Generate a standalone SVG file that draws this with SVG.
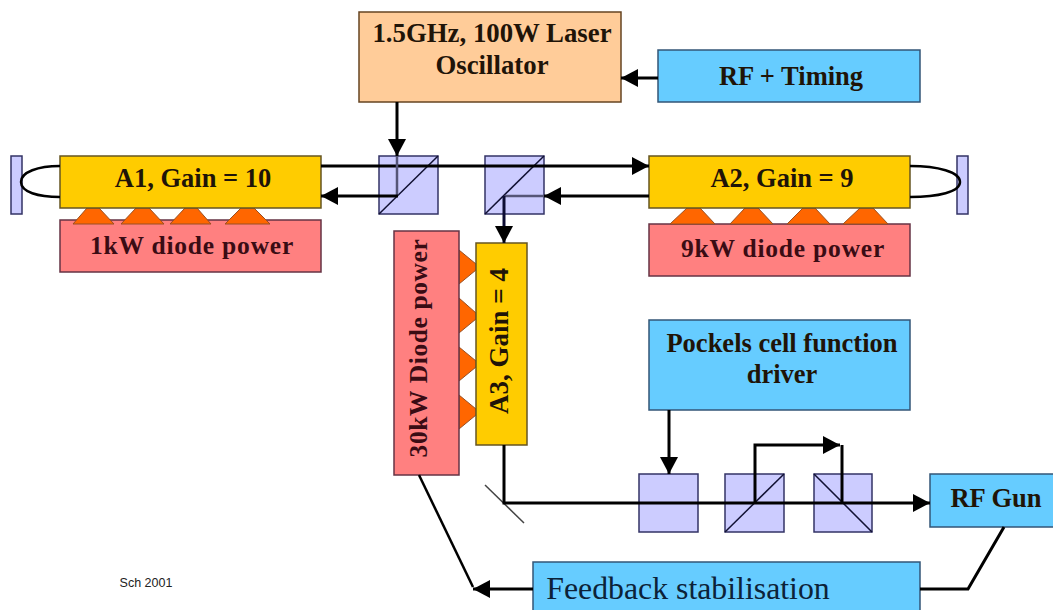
<svg xmlns="http://www.w3.org/2000/svg" width="1053" height="610" viewBox="0 0 1053 610">
<defs>
<marker id="ah" markerUnits="userSpaceOnUse" markerWidth="20" markerHeight="20" refX="17" refY="9" orient="auto"><path d="M0,0L17,9L0,18Z" fill="#000"/></marker>
</defs>
<style>
text{font-family:"Liberation Serif",serif;font-weight:bold;fill:#1f1408;text-anchor:middle;font-size:26.5px}
.p{font-size:25.5px;letter-spacing:.8px;fill:#3a0c14}
.y{fill:#ffcc00;stroke:#665522;stroke-width:1.5}
.r{fill:#ff8080;stroke:#663344;stroke-width:1.5}
.b{fill:#66ccff;stroke:#335577;stroke-width:1.5}
.o{fill:#ffcc99;stroke:#664422;stroke-width:1.5}
.c{fill:#ccccff;stroke:#333366;stroke-width:1.5}
.d{fill:#ff6600;stroke:#994f22;stroke-width:1}
.l{fill:none;stroke:#000;stroke-width:3}
.m{fill:none;stroke:#555577;stroke-width:2.5}
.t{fill:none;stroke:#111133;stroke-width:1.5}
.n{fill:none;stroke:#444;stroke-width:1.5}
.f{fill:none;stroke:#000;stroke-width:2.5}
</style>
<rect width="1053" height="610" fill="#fff"/>
<g id="p1"><rect class="r" x="60" y="220" width="261" height="52"/><text class="p" x="192" y="254">1kW diode power</text></g>
<g id="p2"><rect class="r" x="649" y="224" width="261" height="52"/><text class="p" x="783" y="257">9kW diode power</text></g>
<g id="diodes-a1"><path class="d" d="M73,224L87,208H99L114,224Z"/><path class="d" d="M121,224L136,208H149L164,224Z"/><path class="d" d="M170,224L185,208H197L211,224Z"/><path class="d" d="M225,224L241,208H254L270,224Z"/></g>
<g id="diodes-a2"><path class="d" d="M670,224L687,208H700L715,224Z"/><path class="d" d="M730,224L745,208H758L773,224Z"/><path class="d" d="M787,224L803,208H815L830,224Z"/><path class="d" d="M843,224L860,208H873L888,224Z"/></g>
<g id="diodes-a3"><path class="d" d="M459,250L476,264V270L459,284Z"/><path class="d" d="M459,298L476,313V319L459,333Z"/><path class="d" d="M459,347L476,361V367L459,381Z"/><path class="d" d="M459,395L476,409V415L459,429Z"/></g>
<g id="laser"><rect class="o" x="359" y="12" width="262" height="90"/><text x="492" y="42" style="font-size:26.8px">1.5GHz, 100W Laser</text><text x="492" y="74" style="font-size:26.8px">Oscillator</text></g>
<g id="rf-timing"><rect class="b" x="658" y="50" width="262" height="52"/><text x="791" y="85">RF + Timing</text></g>
<g id="mirror-left"><rect class="c" x="11" y="156" width="11" height="58"/></g>
<g id="mirror-right"><rect class="c" x="957" y="156" width="11" height="58"/></g>
<g id="a1"><rect class="y" x="60" y="156" width="261" height="52"/><text x="193" y="187">A1, Gain = 10</text></g>
<g id="a2"><rect class="y" x="649" y="156" width="261" height="52"/><text x="782" y="187">A2, Gain = 9</text></g>
<g id="p3"><rect class="r" x="394" y="231" width="65" height="244"/><text class="p" transform="translate(427,348) rotate(-90)" style="letter-spacing:.6px">30kW Diode power</text></g>
<g id="a3"><rect class="y" x="476" y="243" width="51" height="202"/><text transform="translate(508,341) rotate(-90)" style="font-size:27px">A3, Gain = 4</text></g>
<g id="pockels"><rect class="b" x="649" y="320" width="261" height="90"/><text x="782" y="352">Pockels cell function</text><text x="782" y="383">driver</text></g>
<g id="rf-gun"><rect class="b" x="930" y="474" width="125" height="53"/><text x="996" y="507">RF Gun</text></g>
<g id="feedback"><rect class="b" x="533" y="562" width="387" height="50"/><text x="688" y="599" style="font-size:31.8px;font-weight:normal;fill:#0c2238">Feedback stabilisation</text></g>
<g id="cubes">
<rect class="c" x="379" y="156" width="59" height="58"/><path class="t" d="M379,214L438,156"/>
<rect class="c" x="485" y="156" width="59" height="58"/><path class="t" d="M485,214L544,156"/>
<rect class="c" x="639" y="474" width="59" height="58"/>
<rect class="c" x="725" y="474" width="59" height="58"/><path class="t" d="M725,532L784,474"/>
<rect class="c" x="814" y="474" width="58" height="58"/><path class="t" d="M814,474L872,532"/>
</g>
<g id="connectors">
<path class="l" d="M397,102V156" marker-end="url(#ah)"/>
<path class="l" d="M658,78H621" marker-end="url(#ah)"/>
<path class="l" d="M321,166H649" marker-end="url(#ah)"/>
<path class="m" d="M397,156V196"/>
<path class="l" d="M398,196H321" marker-end="url(#ah)"/>
<path class="l" d="M649,196H544" marker-end="url(#ah)"/>
<path class="m" d="M544,196H505"/>
<path class="l" d="M504,196V243" marker-end="url(#ah)" style="stroke:#0c0c33"/>
<path class="f" d="M60,166C38,166 21,172 21,182C21,192 38,197 60,197"/>
<path class="f" d="M910,166C938,166 960,172 960,182C960,192 938,197 910,197"/>
<path class="n" d="M485,485L524,523"/>
<path class="l" d="M504,445V503H930" marker-end="url(#ah)"/>
<path class="l" d="M669,410V474" marker-end="url(#ah)"/>
<path class="l" d="M755,503V445H840" marker-end="url(#ah)"/>
<path class="l" d="M842,445V503"/>
<path class="f" d="M419,475L473,587"/>
<path class="l" d="M533,589H473" marker-end="url(#ah)"/>
<path class="l" d="M920,589H968L1004,527"/>
</g>
<g id="credit"><text x="146" y="587" style="font-size:12.5px;font-family:'Liberation Sans',sans-serif;font-weight:normal;fill:#222">Sch  2001</text></g>
</svg>
